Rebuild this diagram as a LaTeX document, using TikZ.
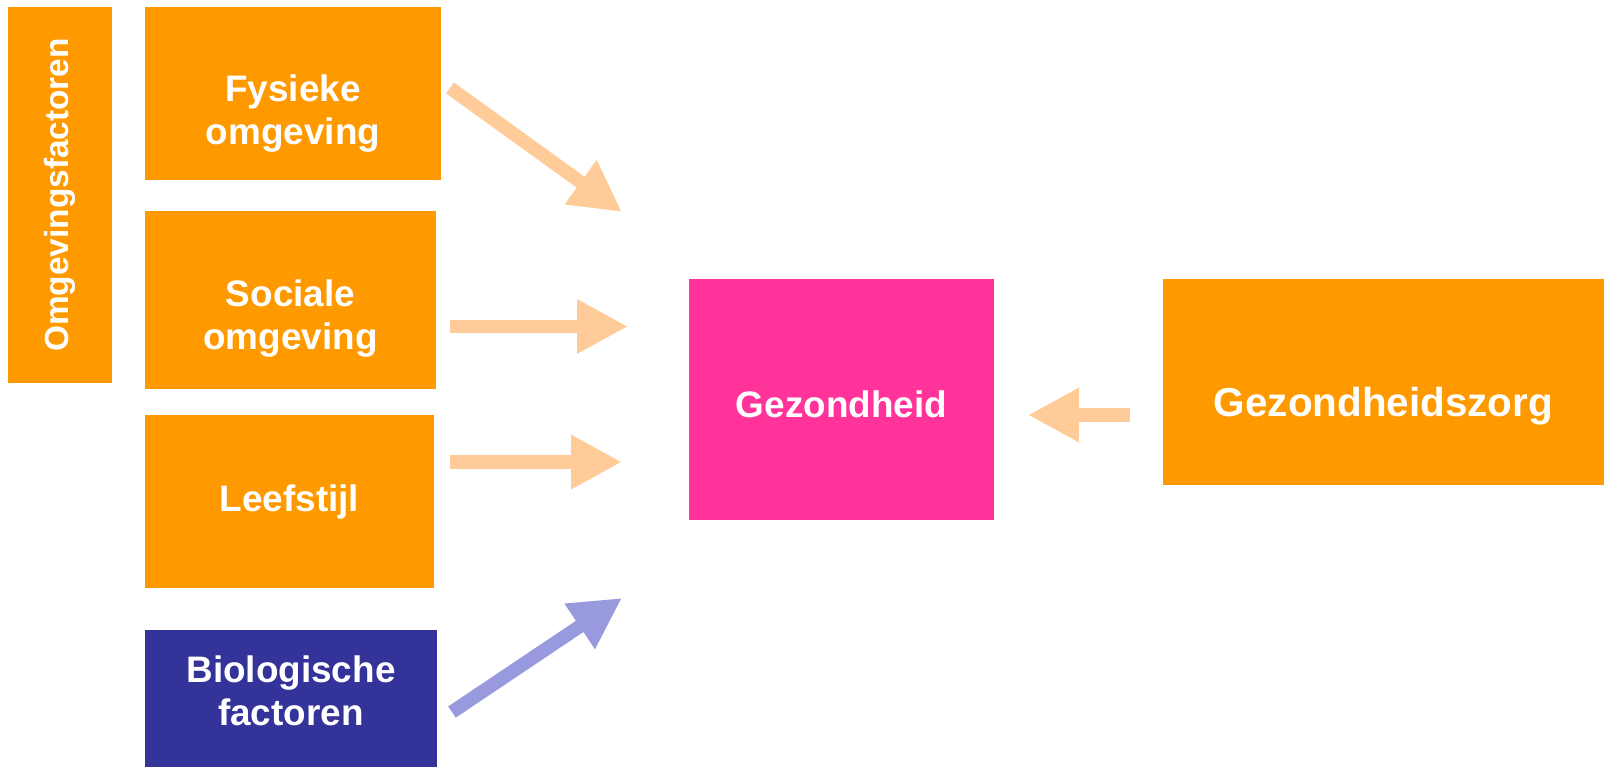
\documentclass[tikz,border=0pt]{standalone}
\usepackage{fontspec}
\setmainfont{Liberation Sans}
\usepackage{tikz}
\usetikzlibrary{arrows.meta}

\definecolor{factor}{HTML}{FF9900}
\definecolor{health}{HTML}{FF3399}
\definecolor{biology}{HTML}{333399}
\definecolor{paleflow}{HTML}{FFCC99}
\definecolor{bioflow}{HTML}{9999DD}

\newcommand{\boxtext}[2]{\raisebox{#1}[\height][\depth]{\begin{tabular}{@{}c@{}}#2\end{tabular}}}

\begin{document}
\begin{tikzpicture}[x=0.02cm,y=-0.02cm,
	flow/.style={line width=0.27cm,-{Triangle[width=1.02cm,length=1.02cm]}}]
	  \tikzstyle{block}=[rectangle,inner sep=0pt,outer sep=0pt,anchor=north west,
	                     text=white,font=\bfseries\fontsize{21}{24.5}\selectfont]

	  \useasboundingbox (0,0) rectangle (1604,767);

	  % boxes
	  \node[block,fill=factor,anchor=center,rotate=90,minimum width=7.52cm,minimum height=2.08cm,
	        font=\bfseries\fontsize{19}{23}\selectfont] (Omgeving) at (60,195) {Omgevingsfactoren};
	  \node[block,fill=factor,minimum width=5.92cm,minimum height=3.46cm] (Fysiek) at (145,7)
	        {\boxtext{-12pt}{Fysieke\\omgeving}};
	  \node[block,fill=factor,minimum width=5.82cm,minimum height=3.56cm] (Sociaal) at (145,211)
	        {\boxtext{-11pt}{Sociale\\omgeving}};
	  \node[block,fill=factor,minimum width=5.78cm,minimum height=3.46cm] (Leefstijl) at (145,415)
	        {Leefstijl};
	  \node[block,fill=biology,minimum width=5.84cm,minimum height=2.74cm] (Biologie) at (145,630)
	        {\boxtext{2pt}{Biologische\\factoren}};
	  \node[block,fill=health,minimum width=6.10cm,minimum height=4.82cm] (Gezond) at (689,279)
	        {\raisebox{-3pt}[\height][\depth]{Gezondheid}};
	  \node[block,fill=factor,minimum width=8.82cm,minimum height=4.12cm,
	        font=\bfseries\fontsize{23}{27}\selectfont] (Zorg) at (1163,279)
	        {\raisebox{-14pt}[\height][\depth]{Gezondheidszorg}};

	  % arrow ends
	  \coordinate (Fysiek-out)    at (450,88);
	  \coordinate (Sociaal-out)   at (450,326.5);
	  \coordinate (Leefstijl-out) at (450,462);
	  \coordinate (Biologie-out)  at (452,712);
	  \coordinate (Zorg-out)      at (1130,415);
	  \coordinate (Gezond-in1)    at (622,212);
	  \coordinate (Gezond-in2)    at (628,326.5);
	  \coordinate (Gezond-in3)    at (622,462);
	  \coordinate (Gezond-in4)    at (622,598);
	  \coordinate (Gezond-in5)    at (1028,415);

	  \draw[flow,paleflow] (Fysiek-out) -- (Gezond-in1);
	  \draw[flow,paleflow] (Sociaal-out) -- (Gezond-in2);
	  \draw[flow,paleflow] (Leefstijl-out) -- (Gezond-in3);
	  \draw[flow,bioflow] (Biologie-out) -- (Gezond-in4);
	  \draw[flow,paleflow] (Zorg-out) -- (Gezond-in5);
\end{tikzpicture}
\end{document}
